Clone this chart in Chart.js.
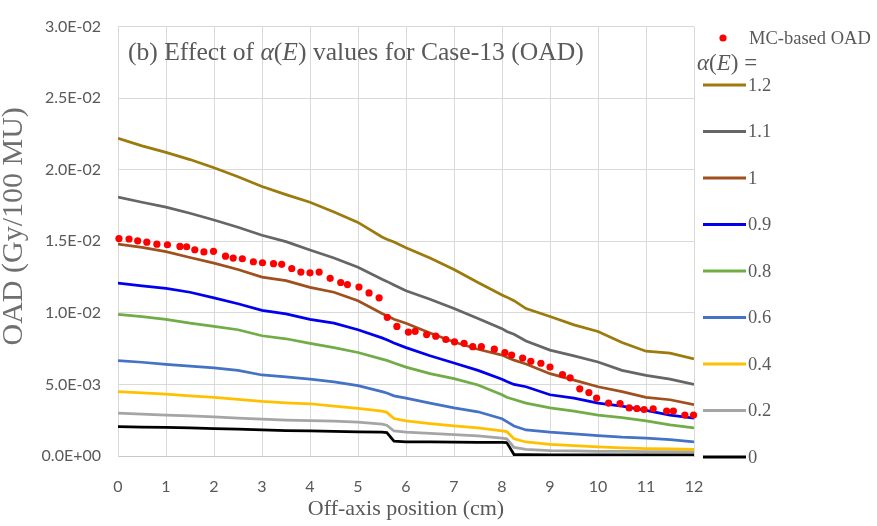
<!DOCTYPE html>
<html>
<head>
<meta charset="utf-8">
<script src="https://cdn.jsdelivr.net/npm/chart.js@4.4.1/dist/chart.umd.min.js"></script>
<style>
  html, body { margin: 0; padding: 0; background: #fff; }
  #wrap { width: 877px; height: 526px; }
</style>
</head>
<body>
<div id="wrap"><canvas id="oadChart"></canvas></div>
<script>
// off-axis positions (cm) shared by the alpha(E) curves
const positions = [0, 0.5, 1, 1.5, 2, 2.5, 3, 3.5, 4, 4.5, 5, 5.5, 5.6, 5.75, 6, 6.5, 7, 7.5, 8, 8.1, 8.25, 8.5, 9, 9.5, 10, 10.5, 11, 11.5, 12];

const oad12 = [0.0222, 0.02167, 0.02121, 0.02071, 0.02014, 0.01951, 0.01883, 0.01826, 0.01773, 0.01705, 0.01632, 0.0153, 0.01515, 0.01495, 0.01455, 0.01383, 0.01303, 0.01212, 0.01125, 0.0111, 0.01085, 0.0103, 0.00975, 0.00916, 0.0087, 0.00793, 0.00732, 0.00718, 0.00679];
const oad11 = [0.01808, 0.01773, 0.01739, 0.01696, 0.01649, 0.01598, 0.01542, 0.01498, 0.01439, 0.01383, 0.01319, 0.01235, 0.0122, 0.01195, 0.01155, 0.01095, 0.0103, 0.0096, 0.0089, 0.0087, 0.0085, 0.00803, 0.0074, 0.007, 0.00657, 0.00598, 0.00564, 0.00537, 0.005];
const oad10 = [0.0148, 0.01458, 0.01428, 0.01387, 0.01348, 0.01303, 0.0125, 0.01225, 0.01178, 0.01144, 0.01085, 0.00996, 0.0098, 0.00955, 0.00928, 0.0086, 0.00796, 0.00746, 0.00705, 0.0069, 0.0067, 0.00643, 0.00575, 0.0053, 0.00484, 0.0045, 0.00409, 0.00393, 0.00359];
const oad09 = [0.01207, 0.01189, 0.01171, 0.01144, 0.01105, 0.01064, 0.01018, 0.00993, 0.00955, 0.00928, 0.00882, 0.00825, 0.00812, 0.0079, 0.00757, 0.007, 0.0065, 0.00598, 0.00536, 0.0052, 0.005, 0.00484, 0.00428, 0.00405, 0.0037, 0.00348, 0.00319, 0.00286, 0.00264];
const oad08 = [0.00989, 0.00973, 0.00955, 0.00928, 0.00905, 0.00882, 0.0084, 0.00819, 0.00787, 0.00757, 0.00723, 0.00677, 0.00668, 0.0065, 0.00621, 0.00575, 0.00541, 0.00496, 0.00428, 0.0041, 0.00395, 0.0037, 0.00336, 0.00314, 0.00286, 0.00268, 0.00246, 0.00218, 0.00196];
const oad06 = [0.00666, 0.00655, 0.0064, 0.00628, 0.00616, 0.00598, 0.00566, 0.00553, 0.00537, 0.00518, 0.00491, 0.0045, 0.0044, 0.0042, 0.00405, 0.0037, 0.00336, 0.00309, 0.0026, 0.0024, 0.0021, 0.00182, 0.00166, 0.00155, 0.00143, 0.00132, 0.00125, 0.00114, 0.00098];
const oad04 = [0.0045, 0.00441, 0.00432, 0.0042, 0.00409, 0.00396, 0.00382, 0.00372, 0.00365, 0.00348, 0.00332, 0.00314, 0.00305, 0.00262, 0.00246, 0.00227, 0.00211, 0.00196, 0.00175, 0.0017, 0.0012, 0.00098, 0.00082, 0.00072, 0.00063, 0.00057, 0.00052, 0.00049, 0.00046];
const oad02 = [0.003, 0.00293, 0.00286, 0.0028, 0.00273, 0.00265, 0.00257, 0.00251, 0.00248, 0.00243, 0.00237, 0.00223, 0.00215, 0.00175, 0.00166, 0.00158, 0.0015, 0.00141, 0.00125, 0.0012, 0.0006, 0.00046, 0.00038, 0.00035, 0.00033, 0.00032, 0.00031, 0.0003, 0.0003];
const oad00 = [0.00205, 0.00202, 0.002, 0.00196, 0.00191, 0.00187, 0.00182, 0.00178, 0.00176, 0.00172, 0.00168, 0.00166, 0.00163, 0.00104, 0.00098, 0.00098, 0.00097, 0.00096, 0.00096, 0.00094, 0.0001, 0.00009, 0.00008, 0.00008, 0.00007, 0.00007, 0.00007, 0.00007, 0.00007];

// MC-based OAD points
const mcPositions = [0.02, 0.23, 0.41, 0.6, 0.81, 1.03, 1.29, 1.43, 1.6, 1.79, 1.99, 2.24, 2.4, 2.59, 2.82, 3.01, 3.24, 3.41, 3.62, 3.81, 4.0, 4.19, 4.42, 4.64, 4.78, 5.02, 5.23, 5.44, 5.61, 5.81, 6.05, 6.19, 6.43, 6.62, 6.83, 7.01, 7.21, 7.39, 7.57, 7.84, 8.06, 8.2, 8.43, 8.6, 8.81, 9.0, 9.26, 9.42, 9.62, 9.81, 9.97, 10.22, 10.46, 10.65, 10.81, 10.96, 11.15, 11.43, 11.57, 11.81, 11.99];
const mcOad = [0.01519, 0.01516, 0.01503, 0.01494, 0.0148, 0.01476, 0.01464, 0.01462, 0.01441, 0.01426, 0.0143, 0.01396, 0.01383, 0.01378, 0.01357, 0.0135, 0.01344, 0.01339, 0.0131, 0.01285, 0.0128, 0.01285, 0.01241, 0.01212, 0.01198, 0.0118, 0.01139, 0.01105, 0.00969, 0.00905, 0.00866, 0.00871, 0.00848, 0.00837, 0.00814, 0.00798, 0.00787, 0.00764, 0.00764, 0.00746, 0.00723, 0.00705, 0.00684, 0.00662, 0.00648, 0.00621, 0.00568, 0.00546, 0.00469, 0.00443, 0.00405, 0.0037, 0.00366, 0.00336, 0.00332, 0.00325, 0.0033, 0.00314, 0.00314, 0.00286, 0.00286];

const alphaLabels = ["1.2", "1.1", "1", "0.9", "0.8", "0.6", "0.4", "0.2", "0"];
const alphaSeries = [oad12, oad11, oad10, oad09, oad08, oad06, oad04, oad02, oad00];
const alphaColors = ["#9c7a0c", "#666666", "#a0501e", "#0000ee", "#70ad47", "#4472c4", "#ffc000", "#a5a5a5", "#000000"];
const yTickLabels = ["0.0E+00", "5.0E-03", "1.0E-02", "1.5E-02", "2.0E-02", "2.5E-02", "3.0E-02"];

const serif = "'Liberation Serif', 'Times New Roman', serif";
const textGray = "#595959";

const datasets = [
  {
    label: "MC-based OAD",
    data: mcPositions.map((x, i) => ({ x, y: mcOad[i] })),
    showLine: false,
    pointRadius: 3.6,
    pointBackgroundColor: "#ff0000",
    pointBorderWidth: 0,
    clip: false
  }
];
alphaSeries.forEach((series, k) => {
  datasets.push({
    label: alphaLabels[k],
    data: positions.map((x, i) => ({ x, y: series[i] })),
    borderColor: alphaColors[k],
    borderWidth: 2.75,
    pointRadius: 0,
    tension: 0,
    fill: false
  });
});

const overlayText = {
  id: "overlayText",
  afterDraw(chart) {
    const ctx = chart.ctx;
    ctx.save();
    ctx.fillStyle = textGray;

    // title inside the plot area, with math italic for alpha(E)
    const titleParts = [["(b) Effect of ", false], ["α", true], ["(", false], ["E", true], [")", false], [" values for Case-13 (OAD)", false]];
    ctx.textBaseline = "alphabetic";
    let tx = 128;
    titleParts.forEach(([text, italic]) => {
      ctx.font = (italic ? "italic " : "") + "25.6px " + serif;
      ctx.fillText(text, tx, 60);
      tx += ctx.measureText(text).width;
    });

    // legend
    ctx.textBaseline = "middle";
    const mc = chart.data.datasets[0];
    ctx.beginPath();
    ctx.arc(723, 38, 3.6, 0, Math.PI * 2);
    ctx.fillStyle = mc.pointBackgroundColor;
    ctx.fill();
    ctx.fillStyle = textGray;
    ctx.font = "18.5px " + serif;
    ctx.fillText(mc.label, 749, 39);

    const headParts = [["α", true], ["(", false], ["E", true], [")", false], [" =", false]];
    let hx = 697;
    headParts.forEach(([text, italic]) => {
      ctx.font = (italic ? "italic " : "") + "23px " + serif;
      ctx.fillText(text, hx, 64);
      hx += ctx.measureText(text).width;
    });

    chart.data.datasets.slice(1).forEach((ds, i) => {
      const y = 85 + i * 46.5;
      ctx.strokeStyle = ds.borderColor;
      ctx.lineWidth = 3;
      ctx.beginPath();
      ctx.moveTo(703, y);
      ctx.lineTo(746, y);
      ctx.stroke();
      ctx.font = "18.5px " + serif;
      ctx.fillStyle = textGray;
      ctx.fillText(ds.label, 748, y + 1);
    });
    ctx.restore();
  }
};

new Chart(document.getElementById("oadChart"), {
  type: "line",
  data: { datasets },
  options: {
    responsive: true,
    maintainAspectRatio: false,
    animation: false,
    layout: { padding: { top: 16, right: 183, left: 0, bottom: 0 } },
    plugins: {
      legend: { display: false },
      tooltip: { enabled: false }
    },
    scales: {
      x: {
        type: "linear",
        min: 0,
        max: 12,
        afterFit: (scale) => { scale.height = 70; },
        ticks: {
          stepSize: 1,
          padding: 21,
          color: textGray,
          font: { family: "Lato", size: 16 }
        },
        grid: { color: "#d9d9d9", drawTicks: false },
        border: { color: "#c8c8c8" },
        title: {
          display: true,
          text: "Off-axis position (cm)",
          color: textGray,
          font: { family: serif, size: 22 },
          padding: { top: 0, bottom: 4 }
        }
      },
      y: {
        type: "linear",
        min: 0,
        max: 0.03,
        afterFit: (scale) => { scale.width = 118; },
        ticks: {
          stepSize: 0.005,
          padding: 17,
          color: textGray,
          font: { family: "Lato", size: 16 },
          callback: (value, index) => yTickLabels[index]
        },
        grid: { color: "#d9d9d9", drawTicks: false },
        border: { color: "#d9d9d9" },
        title: {
          display: true,
          text: "    OAD (Gy/100 MU)",
          color: "#6f6f6f",
          font: { family: serif, size: 30 },
          padding: { top: -4, bottom: 0 }
        }
      }
    }
  },
  plugins: [overlayText]
});
</script>
</body>
</html>
